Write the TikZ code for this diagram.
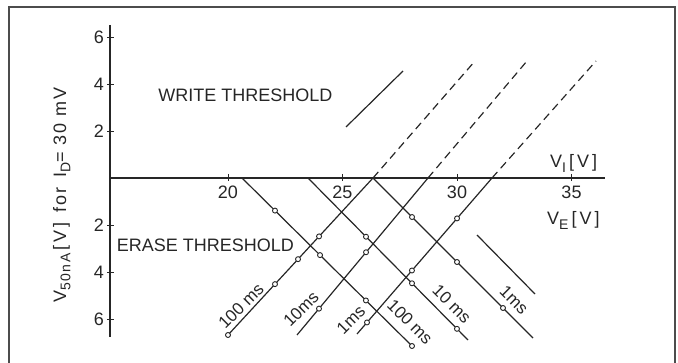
\documentclass[tikz,border=0pt]{standalone}
\usepackage{fontspec}
\setmainfont{Liberation Sans}
\newfontfamily\spacedfont[LetterSpace=11]{Liberation Sans}
\newcommand{\lowsub}[1]{\raisebox{-0.45ex}{\fontsize{14}{14}\selectfont #1}}
\begin{document}
\begin{tikzpicture}[x=1pt,y=-1pt,
  every node/.style={inner sep=0pt, text=black!85, font=\fontsize{18}{20}\selectfont},
  ln/.style={line width=1.2pt, draw=black!85},
  dsh/.style={ln, dash pattern=on 8pt off 5pt},
  ax/.style={line width=1.4pt, draw=black!85},
  tk/.style={line width=0.9pt, draw=black!85},
  dot/.style={circle, draw=black!85, fill=white, line width=0.9pt, minimum size=5pt, inner sep=0pt},
  lbl/.style={font=\fontsize{17}{19}\selectfont}]
\useasboundingbox (0,0) rectangle (678,363);
% frame
\draw[line width=1.4pt, black!70] (9,364) -- (9,7) -- (675,7) -- (675,364);
% axes
\coordinate (yt) at (110,25);
\coordinate (yb) at (110,337);
\coordinate (O) at (110,178);
\coordinate (xr) at (605,178);
\draw[ax] (yt) -- (yb);
\draw[ax] (O) -- (xr);
% y ticks
\foreach \yy/\lab in {37/6,84/4,131/2,225/2,272/4,319/6}{
  \draw[tk] (107,\yy) -- (114,\yy);
  \node[anchor=east] (yl\yy) at (104,\yy) {\lab};
}
% x ticks
\foreach \xx/\lab in {228/20,342.5/25,457/30,571.5/35}{
  \draw[tk] (\xx,174) -- (\xx,181);
  \node[anchor=north] (xl\lab) at (\xx,186) {\lab};
}
% axis labels
\node[anchor=base west] (vi) at (550,168) {V\lowsub{I}\,[\,V\,]};
\node[anchor=base west] (ve) at (547,225) {V\lowsub{E}\,[\,V\,]};
\node[anchor=base, rotate=90] (ylab) at (66,195)
  {\spacedfont V\lowsub{50nA}\,[\,V\,] \,for\, I\lowsub{D}= 30 mV};
% threshold labels
\node (wt) at (245.5,95) {WRITE THRESHOLD};
\node (et) at (205.5,245) {ERASE THRESHOLD};
% rising lines (solid) and dashed continuation
\coordinate (r1a) at (228,335); \coordinate (r1b) at (373,178); \coordinate (r1c) at (475,61);
\coordinate (r2a) at (297,335); \coordinate (r2b) at (428,178); \coordinate (r2c) at (527,61);
\coordinate (r3a) at (357,334); \coordinate (r3b) at (492,178); \coordinate (r3c) at (596,61);
\draw[dsh] (r1b) -- (r1c);
\draw[dsh] (r2b) -- (r2c);
\draw[dsh] (r3b) -- (r3c);
% falling lines
\coordinate (f1a) at (242,178); \coordinate (f1b) at (412,346);
\coordinate (f2a) at (308,178); \coordinate (f2b) at (468,340);
\coordinate (f3a) at (373,178); \coordinate (f3b) at (533,338);
\draw[ln] (r1a) -- (r1b);
\draw[ln] (r2a) -- (r2b);
\draw[ln] (r3a) -- (r3b);
\draw[ln] (f1a) -- (f1b);
\draw[ln] (f2a) -- (f2b);
\draw[ln] (f3a) -- (f3b);
% extra lines
\coordinate (wa) at (346,127); \coordinate (wb) at (403,71);
\draw[ln] (wa) -- (wb);
\coordinate (sa) at (477,235); \coordinate (sb) at (535,294);
\draw[ln] (sa) -- (sb);
% markers
\path (r1a) -- (r1b) node[dot,pos=0]{} node[dot,pos=0.324]{} node[dot,pos=0.483]{} node[dot,pos=0.628]{};
\path (r2a) -- (r2b) node[dot,pos=0.168]{} node[dot,pos=0.527]{};
\path (r3a) -- (r3b) node[dot,pos=0.074]{} node[dot,pos=0.407]{} node[dot,pos=0.741]{};
\path (f1a) -- (f1b) node[dot,pos=0.194]{} node[dot,pos=0.459]{} node[dot,pos=0.729]{} node[dot,pos=1]{};
\path (f2a) -- (f2b) node[dot,pos=0.3625]{} node[dot,pos=0.65]{} node[dot,pos=0.931]{};
\path (f3a) -- (f3b) node[dot,pos=0.244]{} node[dot,pos=0.525]{} node[dot,pos=0.8125]{};
% line labels
\node[lbl, rotate=45] (l1) at (241,306) {100 ms};
\node[lbl, rotate=45] (l2) at (301,309) {10ms};
\node[lbl, rotate=45] (l3) at (351,320) {1ms};
\node[lbl, rotate=-45] (l4) at (410,322) {100 ms};
\node[lbl, rotate=-45] (l5) at (452,304) {10 ms};
\node[lbl, rotate=-45] (l6) at (514,300) {1ms};
\end{tikzpicture}
\end{document}
